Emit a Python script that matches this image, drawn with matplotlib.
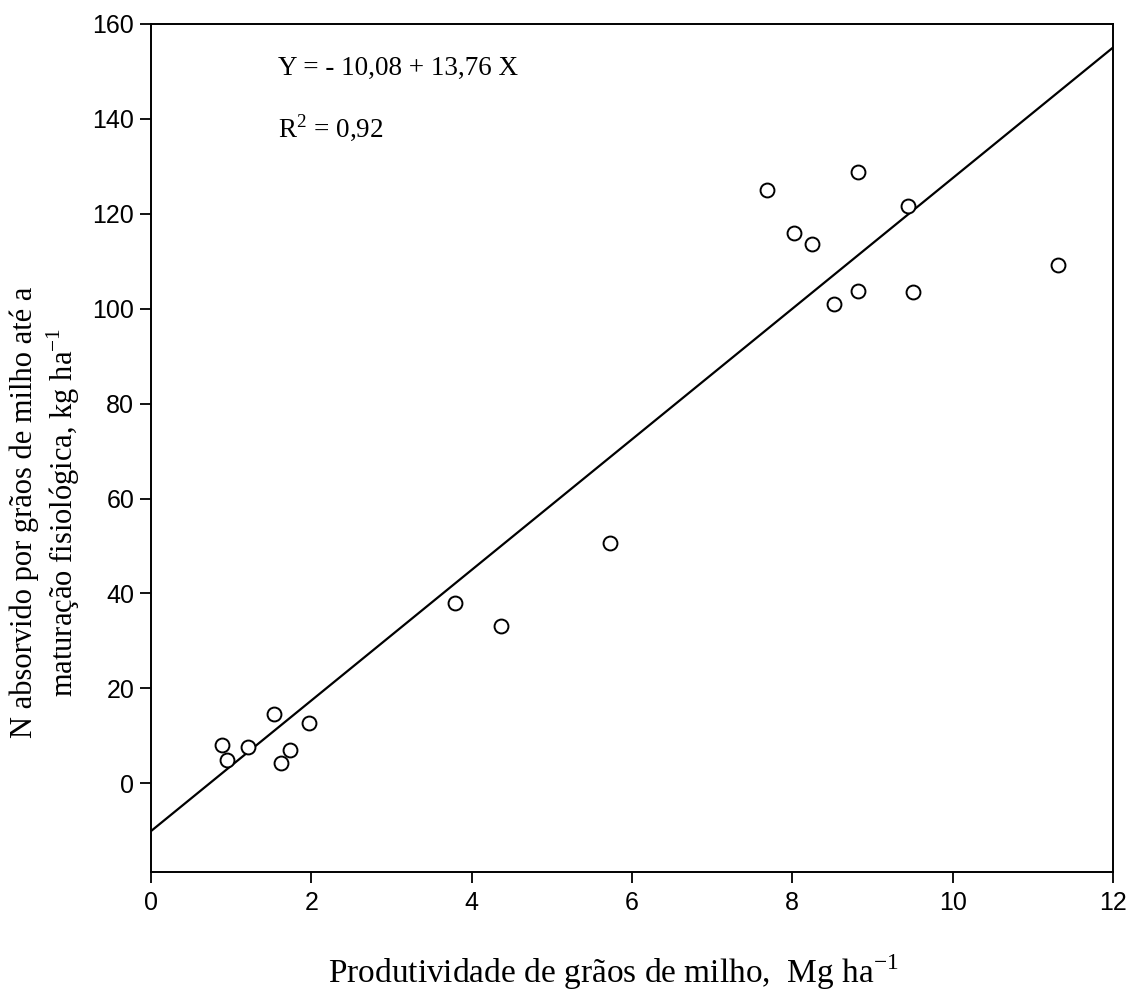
import numpy as np
import matplotlib.pyplot as plt

# produtividade (Mg/ha) e N absorvido pelos grãos (kg/ha)
produtividade = [0.88, 0.95, 1.21, 1.54, 1.62, 1.74, 1.97, 3.79, 4.37, 5.72,
                 7.69, 8.02, 8.25, 8.52, 8.82, 8.82, 9.44, 9.51, 11.32]
n_absorvido = [8.0, 4.8, 7.6, 14.6, 4.3, 7.1, 12.8, 37.9, 33.1, 50.6,
               125.1, 116.0, 113.6, 101.1, 128.9, 103.8, 121.7, 103.6, 109.2]

# regressão linear ajustada
a, b = -10.08, 13.76
x_reta = np.array([0, 12])

serif = ['Liberation Serif', 'DejaVu Serif']
sans = ['Liberation Sans', 'DejaVu Sans']
plt.rcParams['font.family'] = sans

fig = plt.figure(figsize=(11.3, 9.92), dpi=100)
ax = fig.add_axes([151 / 1130, 1 - 872 / 992, (1113 - 151) / 1130, (872 - 24) / 992])

ax.plot(x_reta, a + b * x_reta, color='black', lw=1.6)
ax.plot(produtividade, n_absorvido, 'o', ms=10, mfc='white', mec='black', mew=1.4)

ax.set_xlim(0, 12)
ax.set_ylim(-18.7, 160)
ax.set_xticks(range(0, 13, 2))
ax.set_yticks(range(0, 161, 20))
ax.tick_params(direction='out', length=8, width=1.3, labelsize=18)
ax.tick_params(axis='x', pad=6)
ax.tick_params(axis='y', pad=4)
for s in ax.spines.values():
    s.set_linewidth(1.4)

ax.text(1.58, 149.2, 'Y = - 10,08 + 13,76 X', fontsize=19.5, family=serif, va='baseline')
ax.text(1.58, 136.0, 'R$^{\\mathregular{2}}$ = 0,92', fontsize=19.5, family=serif, va='baseline')

fig.text(613 / 1130, 1 - 972 / 992, 'Produtividade de grãos de milho,  Mg ha$^{\\mathregular{-1}}$',
         fontsize=24, family=serif, ha='center', va='center')
fig.text(46 / 1130, 1 - 512 / 992,
         'N absorvido por grãos de milho até a\nmaturação fisiológica, kg ha$^{\\mathregular{-1}}$',
         fontsize=22, family=serif, ha='center', va='center', rotation=90, linespacing=1.2)

fig.savefig('out.png', dpi=100)
